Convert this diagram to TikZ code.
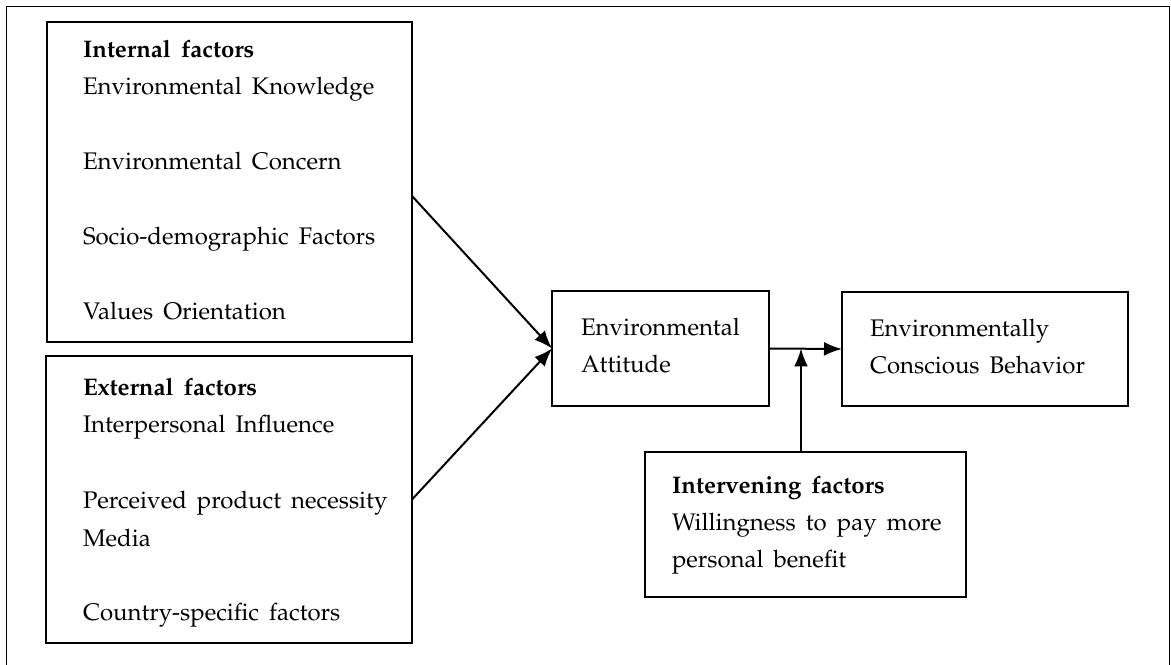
\documentclass[tikz,border=0pt]{standalone}
\usepackage[T1]{fontenc}
\usepackage{mathpazo}
\usepackage{color}
\usepackage{xcolor}
\usepackage{tikz}
\usetikzlibrary{arrows.meta}

\begin{document}
\begin{tikzpicture}[x=1pt,y=1pt,
  boxline/.style={draw=drawColor,line width=0.7pt},
  factorbox/.style={boxline,rectangle,inner sep=0pt,outer sep=0pt},
  label/.style={text=drawColor,anchor=base west,inner sep=0pt,outer sep=0pt,
    font=\fontsize{12}{15}\selectfont,
    execute at begin node={\spaceskip=0.42em plus 0.1em\relax}},
  head/.style={label,font=\fontsize{12}{15}\selectfont\bfseries},
  arrowline/.style={draw=drawColor,line width=1pt,-{Latex[length=9pt,width=7pt]}}]
\definecolor{fillColor}{RGB}{255,255,255}
\definecolor{drawColor}{RGB}{0,0,0}
\path[use as bounding box,fill=fillColor] (0,0) rectangle (585.50,332.00);
\begin{scope}
\path[clip] (0,0) rectangle (585.50,332.00);

\path[draw=drawColor,line width=0.5pt] (  3.00,-5.00) --
	(  3.00,328.50) --
	(584.50,328.50) --
	(584.50,-5.00);

\node[factorbox,minimum width=182.5pt,minimum height=160.0pt] (intbox) at (114.75,241.00) {};

\node[factorbox,minimum width=183.0pt,minimum height=143.5pt] (extbox) at (114.50, 82.25) {};

\node[factorbox,minimum width=108.5pt,minimum height= 57.5pt] (attitude) at (330.25,157.75) {};

\node[factorbox,minimum width=143.0pt,minimum height= 57.0pt] (behavior) at (492.50,157.50) {};

\node[factorbox,minimum width=160.5pt,minimum height= 72.5pt] (intervening) at (402.75, 69.75) {};

\node[head]  (int0) at ( 41.50,303.15) {Internal factors};
\node[label] (int1) at ( 41.50,284.50) {Environmental Knowledge};
\node[label] (int2) at ( 41.50,247.00) {Environmental Concern};
\node[label] (int3) at ( 41.50,209.50) {Socio-demographic Factors};
\node[label] (int4) at ( 41.50,172.00) {Values Orientation};

\node[head]  (ext0) at ( 41.50,134.00) {External factors};
\node[label] (ext1) at ( 41.50,115.50) {Interpersonal Influence};
\node[label] (ext2) at ( 41.50, 78.00) {Perceived product necessity};
\node[label] (ext3) at ( 41.50, 59.00) {Media};
\node[label] (ext4) at ( 41.50, 22.00) {Country-specific factors};

\node[label] (att1) at (290.50,164.00) {Environmental};
\node[label] (att2) at (290.50,145.50) {Attitude};

\node[label] (beh1) at (435.00,163.50) {Environmentally};
\node[label] (beh2) at (435.00,145.00) {Conscious Behavior};

\node[head]  (inv0) at (336.00, 85.50) {Intervening factors};
\node[label] (inv1) at (336.00, 67.00) {Willingness to pay more};
\node[label] (inv2) at (336.00, 48.50) {personal benefit};

\coordinate (meet) at (400.50,157.75);

\path[arrowline] ([yshift=-7pt]intbox.east) -- (attitude.west);
\path[arrowline] (extbox.east) -- (attitude.west);
\path[arrowline] (attitude.east) -- (behavior.west);
\path[arrowline] (meet |- intervening.north) -- (meet);
\end{scope}
\end{tikzpicture}
\end{document}
